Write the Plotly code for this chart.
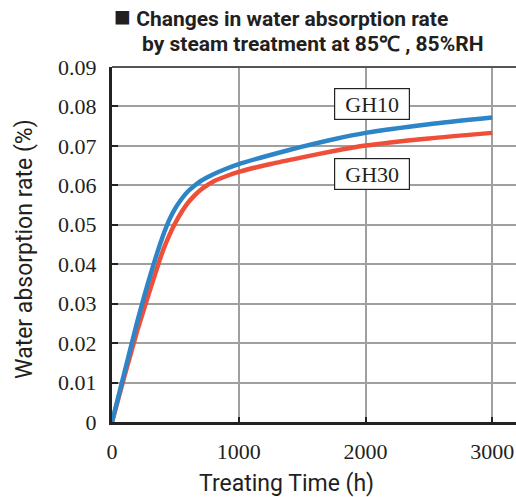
import plotly.graph_objects as go

# Treating time (h) and water absorption rate (%) for each grade
hours = [0, 100, 200, 300, 400, 450, 500, 550, 600, 650, 700, 800, 900, 1000,
         1250, 1500, 1750, 2000, 2500, 3000]
gh10 = [0, 0.0128, 0.0255, 0.0370, 0.0470, 0.0511, 0.0542, 0.0566, 0.0585, 0.0599,
        0.0611, 0.0628, 0.0642, 0.0654, 0.0677, 0.0698, 0.0717, 0.0733, 0.0755, 0.0772]
gh30 = [0, 0.0118, 0.0232, 0.0335, 0.0433, 0.0472, 0.0505, 0.0533, 0.0556, 0.0574,
        0.0589, 0.0610, 0.0623, 0.0634, 0.0654, 0.0671, 0.0687, 0.0701, 0.0719, 0.0733]

x_ticks = [0, 1000, 2000, 3000]
y_ticks = [0, 0.01, 0.02, 0.03, 0.04, 0.05, 0.06, 0.07, 0.08, 0.09]
y_tick_text = ["0" if v == 0 else f"{v:.2f}" for v in y_ticks]

BLUE = "#2d85c8"
RED = "#ef4f38"
INK = "#231f20"
SERIF = "Liberation Serif, Times New Roman, serif"
SANS = "Roboto, sans-serif"

fig = go.Figure()
fig.add_trace(go.Scatter(x=hours, y=gh30, mode="lines", name="GH30",
                         line=dict(color=RED, width=4.5, shape="spline", smoothing=0.6)))
fig.add_trace(go.Scatter(x=hours, y=gh10, mode="lines", name="GH10",
                         line=dict(color=BLUE, width=4.5, shape="spline", smoothing=0.6)))

fig.update_layout(
    width=516, height=497,
    margin=dict(l=112, r=0, t=67, b=75),
    paper_bgcolor="white", plot_bgcolor="white",
    showlegend=False,
    font=dict(family=SERIF, color=INK),
)

fig.update_xaxes(
    range=[0, 3187], tickvals=x_ticks, ticktext=[str(v) for v in x_ticks],
    showgrid=True, gridcolor="#a0a0a0", gridwidth=1.5,
    showline=True, linecolor="#222", linewidth=3, mirror=False,
    ticks="inside", ticklen=5, tickcolor="#222", tickwidth=2,
    tickfont=dict(family=SERIF, size=22, color=INK), ticklabelstandoff=8,
    zeroline=False,
)
fig.update_yaxes(
    range=[0, 0.09], tickvals=y_ticks, ticktext=y_tick_text,
    showgrid=True, gridcolor="#a0a0a0", gridwidth=1.5,
    showline=True, linecolor="#222", linewidth=3,
    ticks="inside", ticklen=6, tickcolor="#222", tickwidth=2,
    tickfont=dict(family=SERIF, size=22, color=INK), ticklabelstandoff=8,
    zeroline=False,
)

# top frame line
fig.add_shape(type="line", xref="paper", yref="paper", x0=0, x1=1, y0=1, y1=1,
              line=dict(color="#555", width=2))

# series labels
for text, yv in (("GH10", 0.0807), ("GH30", 0.0628)):
    fig.add_annotation(x=2051, y=yv, text=text, showarrow=False,
                       font=dict(family=SERIF, size=22, color=INK),
                       bgcolor="white", bordercolor="#222", borderwidth=1.2,
                       width=72, height=28, borderpad=1)

# title
fig.add_annotation(xref="paper", yref="paper", x=0.0, y=1.141, xanchor="left", yanchor="middle",
                   text="<span style='font-size:28px'>■</span><b> Changes in water absorption rate</b>",
                   showarrow=False, font=dict(family=SANS, size=21, color=INK))
fig.add_annotation(xref="paper", yref="paper", x=0.069, y=1.065, xanchor="left", yanchor="middle",
                   text="<b>by steam treatment at 85℃ , 85%RH</b>", showarrow=False,
                   font=dict(family=SANS, size=21, color=INK))

# axis titles
fig.add_annotation(xref="paper", yref="paper", x=0.433, y=-0.172, xanchor="center", yanchor="middle",
                   text="Treating Time (h)", showarrow=False,
                   font=dict(family=SANS, size=23, color=INK))
fig.add_annotation(xref="paper", yref="paper", x=-0.215, y=0.488, xanchor="center", yanchor="middle",
                   text="Water absorption rate (%)", showarrow=False, textangle=-90,
                   font=dict(family=SANS, size=23, color=INK))

fig.write_html("out.html")
